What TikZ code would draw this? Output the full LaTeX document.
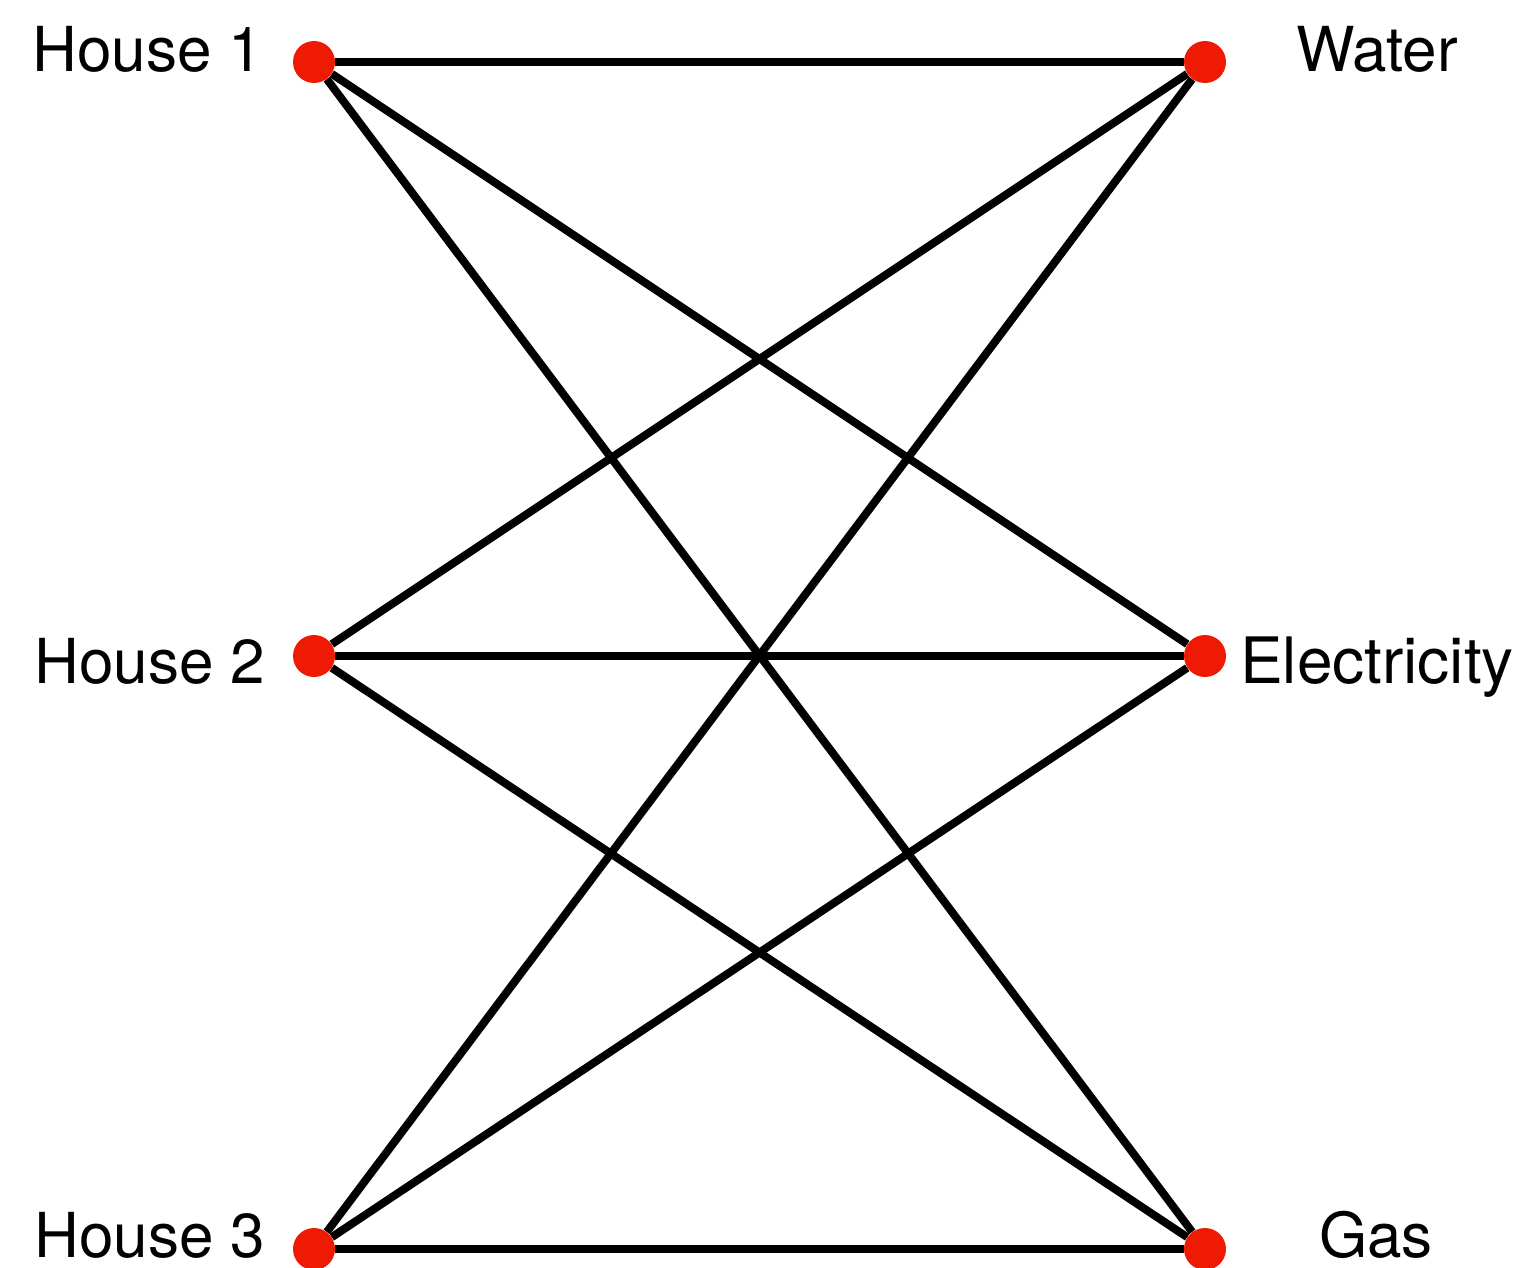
\documentclass[tikz,border=0pt]{standalone}
\usepackage{fontspec}
\setmainfont{TeX Gyre Heros}
\usepackage{xcolor}
\usetikzlibrary{positioning}
\definecolor{dotred}{RGB}{238,26,4}
\tikzset{
  vertex/.style={circle, fill=dotred, inner sep=0pt, minimum size=21pt},
  tag/.style={anchor=base, inner sep=0pt, text depth=0pt, font=\fontsize{31}{37}\selectfont},
  link/.style={line width=4pt, black}
}

\begin{document}
\begin{tikzpicture}[x=0.5pt, y=-0.5pt]
  \useasboundingbox (0,0) rectangle (1533,1268);
  % houses and utilities
  \node[vertex] (h1) at (314,62) {};
  \node[vertex] (h2) at (314,656) {};
  \node[vertex] (h3) at (314,1249) {};
  \node[vertex] (water) at (1205,62) {};
  \node[vertex] (elec) at (1205,656) {};
  \node[vertex] (gas) at (1205,1249) {};

  \node[tag] (t1) at (148,72) {House 1};
  \node[tag] (t2) at (150,683) {House 2};
  \node[tag] (t3) at (150,1257) {House 3};
  \node[tag] (tw) at (1377,72) {Water};
  \node[tag, font=\fontsize{32}{37}\selectfont] (te) at (1377,683) {Electricity};
  \node[tag] (tg) at (1376,1257) {Gas};

  % every house to every utility
  \foreach \h in {h1,h2,h3}
    \foreach \u in {water,elec,gas}
      \draw[link] (\h) -- (\u);
\end{tikzpicture}
\end{document}
